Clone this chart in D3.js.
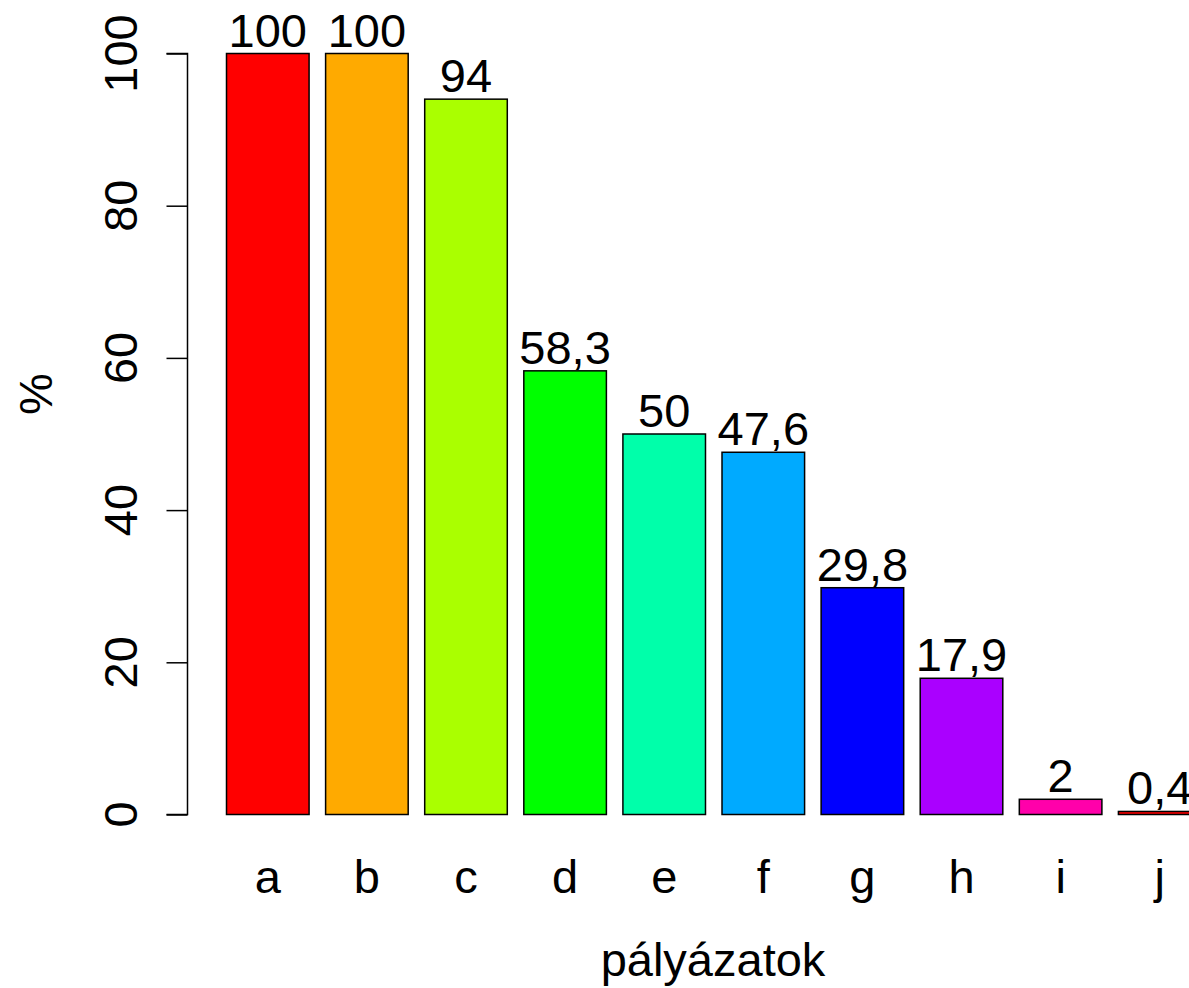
<html>
<script src="https://cdnjs.cloudflare.com/ajax/libs/d3/7.8.5/d3.min.js"></script>
<style>
  body { margin: 0; background: #fff; }
  text { font-family: "Liberation Sans", Arial, sans-serif; fill: #000; }
</style>
<body>
  <svg width="1189" height="988"></svg>
</body>
<script>
  const categories = ['a', 'b', 'c', 'd', 'e', 'f', 'g', 'h', 'i', 'j'];
  const values = [100, 100, 94, 58.3, 50, 47.6, 29.8, 17.9, 2, 0.4];
  const valueLabels = ['100', '100', '94', '58,3', '50', '47,6', '29,8', '17,9', '2', '0,4'];
  const colors = ['#FF0000', '#FFAA00', '#AAFF00', '#00FF00', '#00FFAA',
                  '#00AAFF', '#0000FF', '#AA00FF', '#FF00AA', '#FF0000'];
  const yTicks = [0, 20, 40, 60, 80, 100];

  const svg = d3.select('svg');
  const fs = 47;

  const x = d3.scaleBand()
    .domain(categories)
    .range([226.5, 1201])
    .paddingInner(1 / 6)
    .paddingOuter(0);

  const y = d3.scaleLinear()
    .domain([0, 100])
    .range([814.5, 53.5]);

  // bars
  svg.selectAll('rect.bar')
    .data(values)
    .enter()
    .append('rect')
    .attr('class', 'bar')
    .attr('x', (d, i) => x(categories[i]))
    .attr('y', d => y(d))
    .attr('width', x.bandwidth())
    .attr('height', d => y(0) - y(d))
    .attr('fill', (d, i) => colors[i])
    .attr('stroke', '#000')
    .attr('stroke-width', 1.5);

  // value labels
  svg.selectAll('text.val')
    .data(values)
    .enter()
    .append('text')
    .attr('class', 'val')
    .attr('x', (d, i) => x(categories[i]) + x.bandwidth() / 2)
    .attr('y', d => y(d) - 7)
    .attr('text-anchor', 'middle')
    .attr('font-size', fs)
    .text((d, i) => valueLabels[i]);

  // y axis
  const yAxis = svg.append('g')
    .attr('transform', 'translate(187.5,0)')
    .call(d3.axisLeft(y).tickValues(yTicks).tickSize(21).tickPadding(0).tickFormat(''));
  yAxis.select('.domain').attr('stroke-width', 1.5).attr('d', `M-21,${y(0)}H0V${y(100)}H-21`);
  yAxis.selectAll('.tick line').attr('stroke-width', 1.5);

  svg.selectAll('text.ytick')
    .data(yTicks)
    .enter()
    .append('text')
    .attr('class', 'ytick')
    .attr('transform', d => `translate(137,${y(d)}) rotate(-90)`)
    .attr('text-anchor', 'middle')
    .attr('font-size', fs)
    .text(d => d);

  // x category labels
  svg.selectAll('text.xcat')
    .data(categories)
    .enter()
    .append('text')
    .attr('class', 'xcat')
    .attr('x', d => x(d) + x.bandwidth() / 2)
    .attr('y', 893)
    .attr('text-anchor', 'middle')
    .attr('font-size', fs)
    .text(d => d);

  // axis titles
  svg.append('text')
    .attr('x', 713)
    .attr('y', 976)
    .attr('text-anchor', 'middle')
    .attr('font-size', fs)
    .text('pályázatok');

  svg.append('text')
    .attr('transform', 'translate(52,394) rotate(-90)')
    .attr('text-anchor', 'middle')
    .attr('font-size', fs)
    .text('%');
</script>
</html>
